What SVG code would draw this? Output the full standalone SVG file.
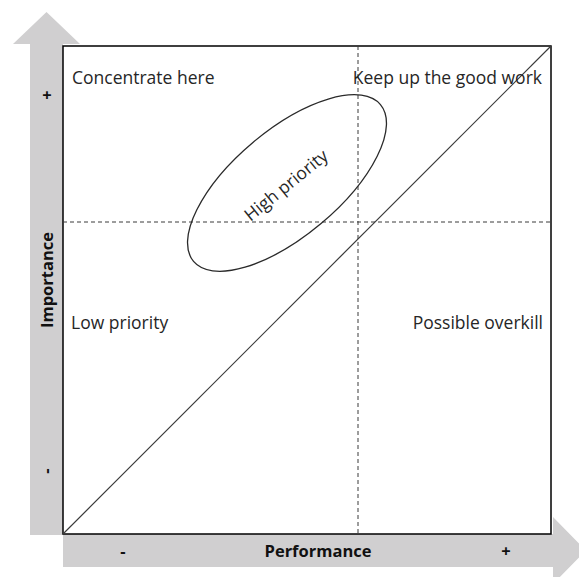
<svg xmlns="http://www.w3.org/2000/svg" width="579" height="577" viewBox="0 0 579 577">
  <style>
    .axis { fill: #d0cfd0; }
    .frame { fill: #ffffff; stroke: #000000; stroke-width: 1.5; }
    .guide { fill: none; stroke: #3a3a3a; stroke-width: 1; stroke-dasharray: 4 3; }
    .diag { fill: none; stroke: #3a3a3a; stroke-width: 1.2; }
    .zone { fill: none; stroke: #2a2a2a; stroke-width: 1.3; }
    .lbl { font-family: "Open Sans", "Noto Sans", "Liberation Sans", sans-serif; font-size: 17.5px; fill: #262626; }
    .ax { font-family: "Open Sans", "Noto Sans", "Liberation Sans", sans-serif; font-size: 16.5px; font-weight: bold; fill: #111111; }
  </style>

  <!-- axis arrows -->
  <g id="axis-importance">
    <polygon class="axis" points="30,535 30,44 13,44 46.5,12 80,44 63,44 63,535"/>
    <text class="ax" x="47" y="101" text-anchor="middle">+</text>
    <text class="ax" transform="translate(52,471) rotate(-90)" text-anchor="middle">-</text>
    <text class="ax" transform="translate(52.5,280) rotate(-90)" text-anchor="middle">Importance</text>
  </g>
  <g id="axis-performance">
    <polygon class="axis" points="63,534 553,534 553,517 586,550.5 553,584 553,567 63,567"/>
    <text class="ax" x="123" y="557" text-anchor="middle">-</text>
    <text class="ax" x="506" y="557" text-anchor="middle">+</text>
    <text class="ax" x="318" y="557" text-anchor="middle">Performance</text>
  </g>

  <!-- plot area -->
  <g id="matrix">
    <rect class="frame" x="63" y="46" width="488" height="488"/>
  </g>

  <g id="connectors">
    <line class="guide" x1="63" y1="222" x2="551" y2="222"/>
    <line class="guide" x1="358" y1="46" x2="358" y2="534"/>
    <line class="diag" x1="63" y1="534" x2="551" y2="46"/>
  </g>

  <!-- quadrant labels -->
  <g id="q-concentrate">
    <text class="lbl" x="72" y="84">Concentrate here</text>
  </g>
  <g id="q-keep-up">
    <text class="lbl" x="542" y="84" text-anchor="end">Keep up the good work</text>
  </g>
  <g id="q-low">
    <text class="lbl" x="71" y="329">Low priority</text>
  </g>
  <g id="q-overkill">
    <text class="lbl" x="543" y="329" text-anchor="end">Possible overkill</text>
  </g>

  <!-- highlighted zone -->
  <g id="high-priority">
    <ellipse class="zone" cx="287" cy="183" rx="122" ry="53" transform="rotate(-40 287 183)"/>
    <text class="lbl" transform="translate(290,190) rotate(-39)" text-anchor="middle">High priority</text>
  </g>
</svg>
